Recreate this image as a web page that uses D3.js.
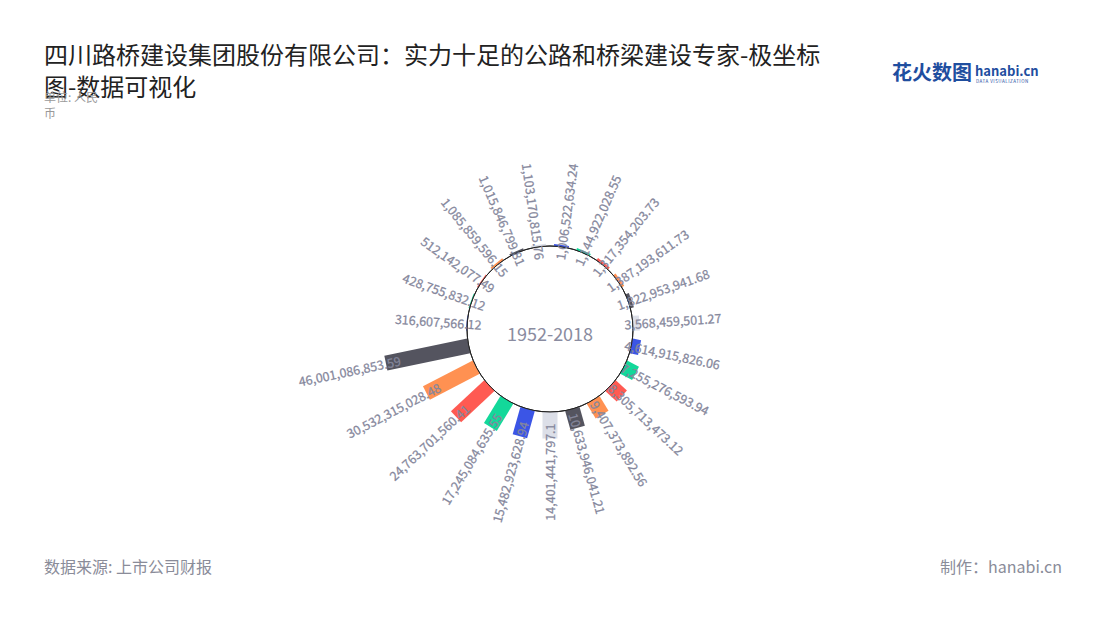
<!DOCTYPE html>
<html>
<head>
<meta charset="utf-8">
<script src="https://cdn.jsdelivr.net/npm/d3@7/dist/d3.min.js"></script>
<style>
  html, body { margin: 0; padding: 0; background: #fff; }
  svg { display: block; font-family: "Noto Sans CJK SC", "Noto Sans", sans-serif; }
</style>
</head>
<body>
<svg id="chart" width="1100" height="620"></svg>
<script>
// ---- data ----
const categories = ["1996","1997","1998","1999","2000","2001","2002","2003","2004","2005","2006","2007",
                    "2008","2009","2010","2011","2012","2013","2014","2015","2016","2017","2018"];
const values = [316607566.12, 428755832.12, 512142077.49, 1085859596.15, 1015846799.81, 1103170815.76,
                1006522634.24, 1144922028.55, 1317354203.73, 1387193611.73, 1822953941.68, 3568459501.27,
                4614915826.06, 7255276593.94, 8305713473.12, 9407373892.56, 10633946041.21, 14401441797.1,
                15482923628.94, 17245084635.55, 24763701560.41, 30532315028.48, 46001086853.59];
const palette = ["#3b55e6", "#13d89a", "#ff5a52", "#ff9152", "#54545f", "#dcdfe8"];
const titleLines = ["四川路桥建设集团股份有限公司：实力十足的公路和桥梁建设专家-极坐标", "图-数据可视化"];
const centerLabel = "1952-2018";

// ---- layout ----
const svg = d3.select("#chart");
const cx = 550, cy = 329, r0 = 83;
const startAngle = -93.9 * Math.PI / 180;

const angle = d3.scaleBand().domain(categories).range([startAngle, startAngle + 2 * Math.PI]);
const radius = d3.scaleLinear().domain([0, 50e9]).range([r0, 175]);
const color = d3.scaleOrdinal().domain(categories).range(palette);

const fmt = v => {
  const parts = String(v).split(".");
  return d3.format(",")(+parts[0]) + (parts[1] ? "." + parts[1] : "");
};

const data = categories.map((c, i) => ({ c, v: values[i] }));
const deg = d => {
  let a = (angle(d.c) + angle.bandwidth() / 2) * 180 / Math.PI;
  return ((a % 360) + 360) % 360;
};

const g = svg.append("g").attr("transform", `translate(${cx},${cy})`);

// inner circle (angle axis line)
g.append("circle").attr("r", r0).attr("fill", "#fff").attr("stroke", "#222").attr("stroke-width", 1);

// bars
const barW = 15;
g.selectAll("rect.bar").data(data).join("rect")
  .attr("class", "bar")
  .attr("x", -barW / 2)
  .attr("y", d => -radius(d.v))
  .attr("width", barW)
  .attr("height", d => radius(d.v) - radius(0))
  .attr("fill", d => color(d.c))
  .attr("transform", d => `rotate(${deg(d)})`);

// re-stroke circle outline on top of bar ends
g.append("circle").attr("r", r0).attr("fill", "none").attr("stroke", "#222").attr("stroke-width", 1);

// labels
g.selectAll("text.lbl").data(data).join("text")
  .attr("class", "lbl")
  .attr("font-size", 12.5)
  .attr("fill", "#85879c")
  .attr("stroke", "#85879c").attr("stroke-width", 0.25)
  .attr("dominant-baseline", "central")
  .attr("text-anchor", d => deg(d) <= 180 ? "start" : "end")
  .attr("transform", d => {
    const a = deg(d), rr = radius(d.v) - 15, t = a * Math.PI / 180;
    const x = rr * Math.sin(t), y = -rr * Math.cos(t);
    const rot = a <= 180 ? a - 90 : a + 90;
    return `translate(${x},${y}) rotate(${rot})`;
  })
  .text(d => fmt(d.v));

// center label
g.append("text").attr("text-anchor", "middle").attr("dominant-baseline", "central")
  .attr("y", 4).attr("font-size", 18).attr("fill", "#8a8ca0").text(centerLabel);

// title
const title = svg.append("text").attr("x", 44).attr("font-size", 24).attr("fill", "#222");
title.selectAll("tspan").data(titleLines).join("tspan")
  .attr("x", 44).attr("y", (d, i) => 64 + i * 32).text(d => d);

// subtitle (unit)
const sub = svg.append("text").attr("font-size", 12).attr("fill", "#999");
sub.append("tspan").attr("x", 44).attr("y", 102).text("单位: 人民");
sub.append("tspan").attr("x", 44).attr("y", 118).text("币");

// footer
svg.append("text").attr("x", 44).attr("y", 573).attr("font-size", 16).attr("fill", "#8a8c99")
  .text("数据来源: 上市公司财报");
svg.append("text").attr("x", 1062).attr("y", 573).attr("text-anchor", "end").attr("font-size", 16)
  .attr("fill", "#8a8c99").text("制作：hanabi.cn");

// logo
svg.append("text").attr("x", 892).attr("y", 80).attr("font-size", 20).attr("font-weight", "bold")
  .attr("fill", "#1f4e9f").text("花火数图");
svg.append("text").attr("x", 975).attr("y", 76).attr("font-size", 13).attr("font-weight", "bold")
  .attr("fill", "#1f4e9f").text("hanabi.cn");
svg.append("text").attr("x", 976).attr("y", 83).attr("font-size", 4.5).attr("letter-spacing", 0.5)
  .attr("fill", "#1f4e9f").text("DATA VISUALIZATION");
</script>
</body>
</html>
